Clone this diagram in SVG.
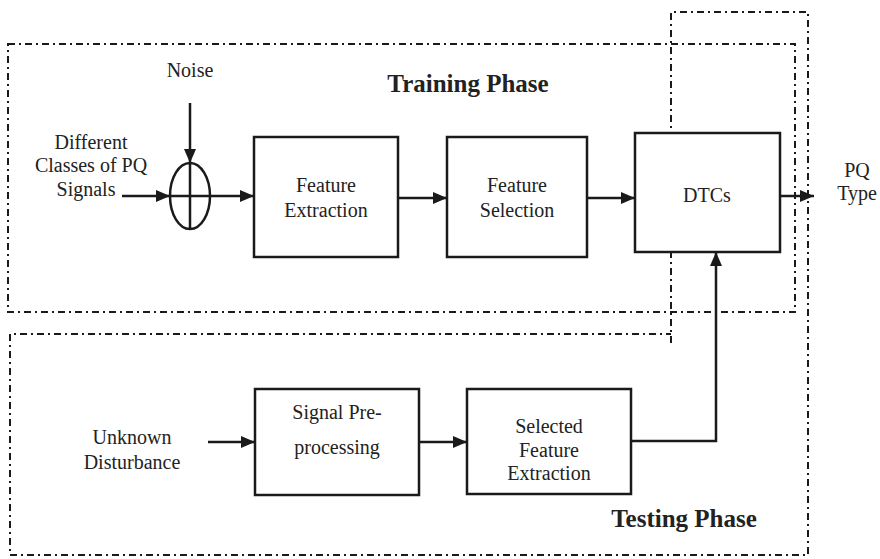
<svg xmlns="http://www.w3.org/2000/svg" width="880" height="559" viewBox="0 0 880 559">
<defs>
<style>
.t{font-family:"Liberation Serif","Times New Roman",serif;font-size:20px;fill:#222;text-anchor:middle}
.h{font-family:"Liberation Serif","Times New Roman",serif;font-size:25px;font-weight:bold;fill:#222;text-anchor:middle}
.box{fill:#fff;stroke:#1a1a1a;stroke-width:2.5}
.ln{fill:none;stroke:#1a1a1a;stroke-width:2.5}
.dd{fill:none;stroke:#1a1a1a;stroke-width:2;stroke-dasharray:7 4 2 4}
</style>
<marker id="ah" markerUnits="userSpaceOnUse" markerWidth="14" markerHeight="12" refX="14" refY="6" orient="auto">
<path d="M0,0 L14,6 L0,12 Z" fill="#1a1a1a"/>
</marker>
</defs>
<rect width="880" height="559" fill="#fff"/>
<g id="training-phase">
<rect class="dd" x="8" y="44" width="787" height="268"/>
<text class="h" x="468" y="92">Training Phase</text>
</g>
<g id="testing-phase">
<path class="dd" d="M671,343 V12 H808 V555 H10 V334 H671"/>
<text class="h" x="684" y="527">Testing Phase</text>
</g>
<g id="noise"><text class="t" x="190" y="77">Noise</text></g>
<g id="input"><text class="t" x="91" y="149">Different</text><text class="t" x="91" y="172">Classes of PQ</text><text class="t" x="86" y="196">Signals</text></g>
<g id="sum"><ellipse class="ln" cx="190" cy="196" rx="20" ry="33"/><path class="ln" d="M170,196 H210 M190,163 V229"/></g>
<g id="feature-extraction"><rect class="box" x="254" y="137" width="144" height="120"/><text class="t" x="326" y="192">Feature</text><text class="t" x="326" y="217">Extraction</text></g>
<g id="feature-selection"><rect class="box" x="447" y="137" width="140" height="120"/><text class="t" x="517" y="192">Feature</text><text class="t" x="517" y="217">Selection</text></g>
<g id="dtcs"><rect class="box" x="635" y="133" width="145" height="119"/><text class="t" x="707" y="202">DTCs</text></g>
<g id="pq-type"><text class="t" x="857" y="177">PQ</text><text class="t" x="857" y="200">Type</text></g>
<g id="unknown"><text class="t" x="132" y="444">Unknown</text><text class="t" x="132" y="469">Disturbance</text></g>
<g id="signal-preprocessing"><rect class="box" x="255" y="389" width="164" height="106"/><text class="t" x="337" y="419">Signal Pre-</text><text class="t" x="337" y="454">processing</text></g>
<g id="selected-feature-extraction"><rect class="box" x="467" y="389" width="164" height="105"/><text class="t" x="549" y="433">Selected</text><text class="t" x="549" y="457">Feature</text><text class="t" x="549" y="480">Extraction</text></g>
<g id="connectors">
<path class="ln" d="M190,103 V163" marker-end="url(#ah)"/>
<path class="ln" d="M122,196 H170" marker-end="url(#ah)"/>
<path class="ln" d="M210,196 H254" marker-end="url(#ah)"/>
<path class="ln" d="M398,198 H447" marker-end="url(#ah)"/>
<path class="ln" d="M587,198 H635" marker-end="url(#ah)"/>
<path class="ln" d="M780,196 H814" marker-end="url(#ah)"/>
<path class="ln" d="M208,442 H255" marker-end="url(#ah)"/>
<path class="ln" d="M419,442 H467" marker-end="url(#ah)"/>
<path class="ln" d="M631,441 H716 V252" marker-end="url(#ah)"/>
</g>
</svg>
